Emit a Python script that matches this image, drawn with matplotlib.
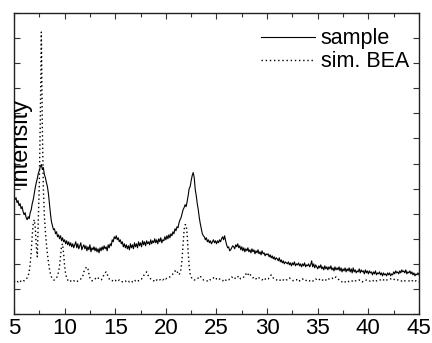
import numpy as np
import matplotlib.pyplot as plt
from matplotlib.ticker import MultipleLocator

plt.rcParams['font.family'] = ['Liberation Sans', 'DejaVu Sans']

# 2theta grid (degrees), 0.1 deg step from 5 to 45
two_theta = np.round(np.arange(5.0, 45.05, 0.1), 1)

# measured pattern (a.u.)
sample = [
    117, 114, 116, 111, 113, 108, 110, 105, 107, 102,
    99, 101, 96, 94, 97, 95, 101, 104, 110, 114,
    120, 126, 131, 135, 140, 143, 147, 149, 144, 146,
    139, 136, 131, 127, 120, 110, 100, 92, 88, 84,
    85, 80, 82, 77, 79, 75, 78, 73, 76, 72,
    74, 70, 73, 69, 72, 68, 71, 67, 70, 66,
    69, 72, 66, 70, 65, 68, 71, 64, 67, 69,
    65, 68, 63, 67, 64, 69, 62, 66, 64, 67,
    63, 66, 62, 65, 61, 66, 63, 67, 64, 68,
    65, 67, 63, 69, 66, 70, 68, 74, 72, 77,
    75, 78, 74, 76, 72, 74, 70, 72, 67, 70,
    66, 69, 65, 68, 64, 70, 66, 69, 65, 71,
    67, 70, 66, 72, 68, 71, 67, 73, 69, 72,
    68, 73, 70, 72, 69, 74, 70, 73, 71, 75,
    71, 74, 70, 75, 72, 76, 71, 74, 73, 77,
    74, 78, 75, 79, 76, 80, 78, 82, 80, 85,
    83, 87, 86, 91, 94, 96, 100, 104, 106, 109,
    107, 112, 118, 125, 127, 133, 138, 141, 136, 124,
    118, 110, 104, 96, 90, 85, 80, 78, 77, 74,
    76, 72, 74, 71, 73, 70, 72, 74, 71, 73,
    70, 73, 71, 74, 72, 75, 77, 74, 78, 73,
    69, 66, 67, 63, 64, 66, 68, 67, 65, 69,
    67, 70, 66, 68, 64, 67, 63, 66, 62, 65,
    63, 66, 62, 64, 61, 65, 62, 64, 60, 63,
    61, 64, 60, 62, 59, 63, 60, 61, 58, 60,
    59, 60, 57, 59, 56, 58, 55, 57, 54, 56,
    55, 53, 56, 52, 54, 51, 53, 50, 52, 51,
    50, 52, 49, 51, 48, 51, 49, 52, 48, 50,
    49, 51, 48, 50, 47, 50, 48, 51, 47, 49,
    48, 50, 47, 49, 53, 47, 50, 46, 49, 47,
    45, 48, 46, 49, 45, 47, 44, 48, 45, 47,
    44, 47, 45, 48, 44, 46, 43, 47, 44, 46,
    44, 47, 43, 46, 42, 45, 43, 46, 42, 45,
    43, 46, 42, 45, 41, 46, 42, 44, 41, 43,
    42, 45, 41, 44, 42, 43, 40, 44, 41, 43,
    40, 43, 41, 42, 39, 42, 40, 43, 39, 41,
    40, 42, 39, 41, 38, 41, 39, 40, 38, 41,
    39, 41, 38, 40, 39, 42, 40, 43, 41, 42,
    40, 43, 41, 44, 42, 43, 41, 44, 40, 42,
    41, 43, 40, 42, 39, 41, 38, 40, 39, 41,
    39,
]

# simulated BEA pattern (a.u.)
sim_bea = [
    33, 32, 33, 33, 32, 33, 32, 33, 33, 34,
    33, 34, 35, 36, 38, 42, 50, 62, 78, 90,
    94, 86, 68, 57, 95, 130, 195, 281, 185, 125,
    98, 82, 70, 60, 52, 45, 40, 37, 35, 34,
    34, 35, 36, 38, 42, 48, 58, 68, 70, 60,
    48, 40, 36, 34, 33, 32, 33, 32, 32, 33,
    33, 33, 32, 33, 34, 34, 35, 36, 38, 42,
    44, 46, 47, 45, 40, 36, 34, 33, 34, 35,
    35, 36, 37, 36, 35, 34, 34, 35, 37, 40,
    41, 42, 40, 37, 35, 34, 33, 33, 34, 33,
    33, 34, 33, 33, 34, 33, 33, 32, 33, 33,
    33, 32, 32, 33, 32, 33, 33, 32, 33, 34,
    33, 33, 34, 33, 34, 35, 35, 36, 38, 40,
    41, 42, 40, 37, 36, 35, 34, 34, 33, 34,
    33, 34, 33, 34, 34, 35, 35, 34, 35, 36,
    35, 36, 36, 37, 37, 38, 39, 40, 41, 43,
    42, 43, 40, 39, 41, 45, 55, 70, 84, 89,
    89, 80, 62, 48, 40, 37, 35, 35, 34, 34,
    34, 35, 36, 37, 38, 36, 35, 34, 34, 33,
    33, 33, 34, 35, 34, 34, 35, 36, 37, 36,
    35, 35, 36, 35, 34, 33, 33, 34, 35, 34,
    33, 34, 34, 35, 36, 37, 36, 37, 36, 35,
    36, 37, 38, 36, 35, 35, 36, 37, 39, 40,
    38, 39, 41, 40, 38, 37, 36, 37, 36, 35,
    36, 37, 36, 35, 35, 34, 35, 36, 35, 34,
    35, 35, 36, 37, 39, 38, 36, 35, 34, 34,
    34, 34, 33, 34, 35, 34, 34, 33, 33, 34,
    34, 35, 36, 35, 34, 34, 33, 33, 34, 34,
    35, 34, 33, 34, 34, 35, 34, 33, 33, 34,
    34, 33, 33, 34, 34, 33, 33, 34, 35, 34,
    34, 35, 34, 33, 33, 34, 34, 35, 34, 33,
    34, 35, 35, 36, 36, 35, 35, 36, 37, 36,
    35, 34, 33, 33, 32, 32, 33, 32, 32, 33,
    33, 32, 32, 33, 33, 32, 32, 33, 33, 33,
    33, 34, 33, 33, 32, 33, 33, 33, 34, 34,
    34, 33, 33, 34, 34, 33, 33, 34, 33, 33,
    33, 34, 34, 35, 34, 34, 34, 35, 34, 34,
    34, 35, 35, 35, 34, 34, 35, 35, 34, 34,
    34, 33, 33, 33, 34, 34, 33, 33, 33, 33,
    33, 33, 32, 33, 33, 32, 33, 33, 32, 32,
    32,
]

fig = plt.figure(figsize=(4.32, 3.43), dpi=100)
ax = fig.add_axes([0.0324, 0.0845, 0.9375, 0.8775])

ax.plot(two_theta, sample, color='black', lw=0.8, label='sample')
ax.plot(two_theta, sim_bea, color='black', lw=1.0, linestyle=(0, (1, 2)),
        label='sim. BEA')

ax.set_xlim(5, 45)
ax.set_ylim(0, 300)
ax.xaxis.set_major_locator(MultipleLocator(5))
ax.xaxis.set_minor_locator(MultipleLocator(2.5))
ax.yaxis.set_major_locator(MultipleLocator(25))
ax.tick_params(which='both', direction='in', top=True, right=True,
               labelleft=False, width=0.8, color='#333333')
ax.tick_params(which='major', length=4, labelsize=16, pad=3)
ax.tick_params(which='minor', length=3)
for s in ax.spines.values():
    s.set_linewidth(1.0)
    s.set_color('#222222')

# y label drawn inside the frame, clipped by it
ax.text(0.0296, 0.429, 'Intensity', transform=ax.transAxes, rotation=90,
        rotation_mode='anchor', ha='left', va='baseline', fontsize=17,
        clip_on=True)

ax.legend(loc='upper right', bbox_to_anchor=(0.975, 0.95), frameon=False,
          fontsize=15.5, handlelength=2.5, handletextpad=0.25,
          labelspacing=0.1, borderpad=0, borderaxespad=0)

fig.savefig('out.png', dpi=100)
